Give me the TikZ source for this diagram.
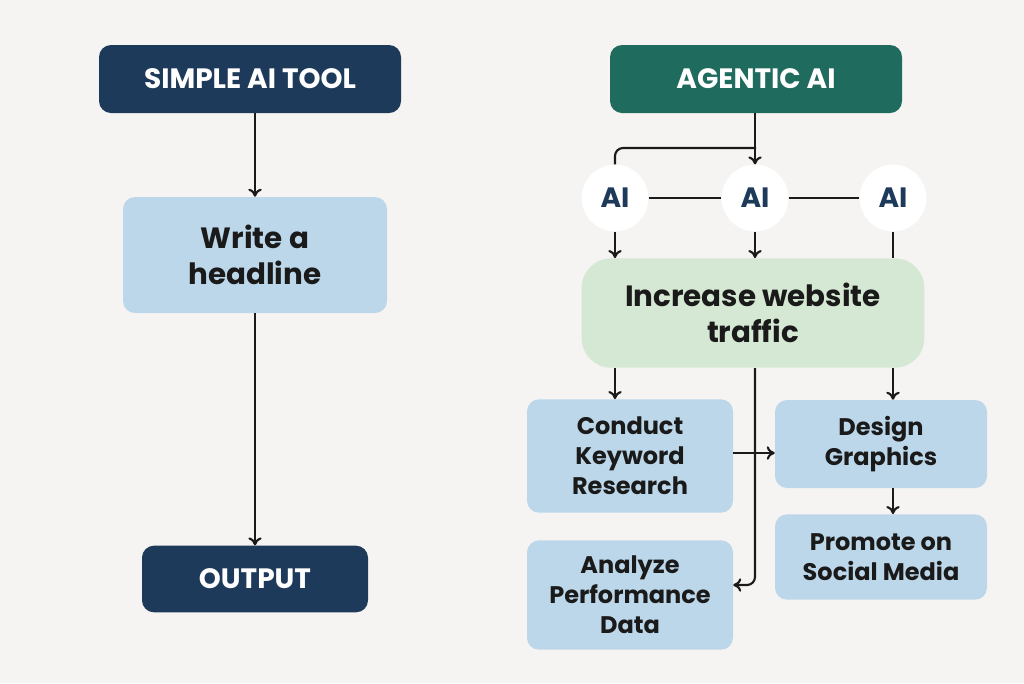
\documentclass[tikz,border=0pt]{standalone}
\usepackage{fontspec}
\setmainfont{Poppins}
\usetikzlibrary{arrows.meta}
\definecolor{navy}{HTML}{1E3A5A}
\definecolor{teal}{HTML}{1F6B5E}
\definecolor{lblue}{HTML}{BCD7EA}
\definecolor{lgreen}{HTML}{D5E8D3}
\definecolor{bg}{HTML}{F5F4F2}
\definecolor{ink}{HTML}{1A1A1A}
\begin{document}
\begin{tikzpicture}[x=0.75pt,y=-0.75pt,
  box/.style={rounded corners=9pt,inner sep=0pt,font=\fontsize{18}{22.5}\selectfont\bfseries,align=center},
  dark/.style={box,fill=navy,text=white,font=\fontsize{21}{24}\selectfont\bfseries},
  light/.style={box,fill=lblue,text=ink},
  ai/.style={circle,fill=white,minimum size=50pt,inner sep=0pt,font=\fontsize{21}{22}\selectfont\bfseries,text=navy},
  ln/.style={line width=1.6pt,draw=ink},
  arr/.style={ln,-{To[length=6pt,width=10pt]}}]
\fill[bg] (0,0) rectangle (1024,683);
\useasboundingbox (0,0) rectangle (1024,683);
\node[dark,minimum width=226.5pt,minimum height=51pt] (s) at (250,79) {SIMPLE AI TOOL};
\node[light,minimum width=198pt,minimum height=87pt,font=\fontsize{22}{27}\selectfont\bfseries] (w) at (255,255) {Write a\\headline};
\node[dark,minimum width=169.5pt,minimum height=50pt] (o) at (255,579) {OUTPUT};
\draw[arr] (s.south -| w.north) -- (w.north);
\draw[arr] (w) -- (o);
\node[dark,fill=teal,minimum width=219pt,minimum height=51pt] (a) at (756,79) {AGENTIC AI};
\node[ai] (a1) at (615,198) {AI};
\node[ai] (a2) at (755,198) {AI};
\node[ai] (a3) at (893,198) {AI};
\draw[ln] (a1) -- (a2) (a2) -- (a3);
\draw[arr] (a.south -| a2) -- (a2);
\coordinate (j) at (756,148);
\draw[ln,rounded corners=6pt] (j) -- (615,148) -- (a1.north);
\node[box,fill=lgreen,text=ink,rounded corners=22pt,minimum width=257pt,minimum height=82pt,font=\fontsize{22}{27}\selectfont\bfseries] (g) at (753,313) {Increase website\\traffic};
\draw[arr] (a1) -- (a1 |- g.north);
\draw[arr] (a2) -- (a2 |- g.north);
\draw[ln] (a3) -- (a3 |- g.north);
\node[light,minimum width=154.5pt,minimum height=85pt] (c) at (630,456) {Conduct\\Keyword\\Research};
\node[light,minimum width=159pt,minimum height=66pt] (d) at (881,444) {Design\\Graphics};
\node[light,minimum width=159pt,minimum height=64pt] (p) at (881,557) {Promote on\\Social Media};
\node[light,minimum width=154.5pt,minimum height=82pt] (n) at (630,595) {Analyze\\Performance\\Data};
\draw[arr] (g.south -| 615,0) -- (c.north -| 615,0);
\draw[arr] (g.south -| 893,0) -- (d.north -| 893,0);
\draw[arr] (c.east |- 0,453) -- (d.west |- 0,453);
\draw[arr] (d.south -| 893,0) -- (p.north -| 893,0);
\draw[arr,rounded corners=6pt] (755,368) -- (755,585) -- (n.east |- 0,585);
\end{tikzpicture}
\end{document}
